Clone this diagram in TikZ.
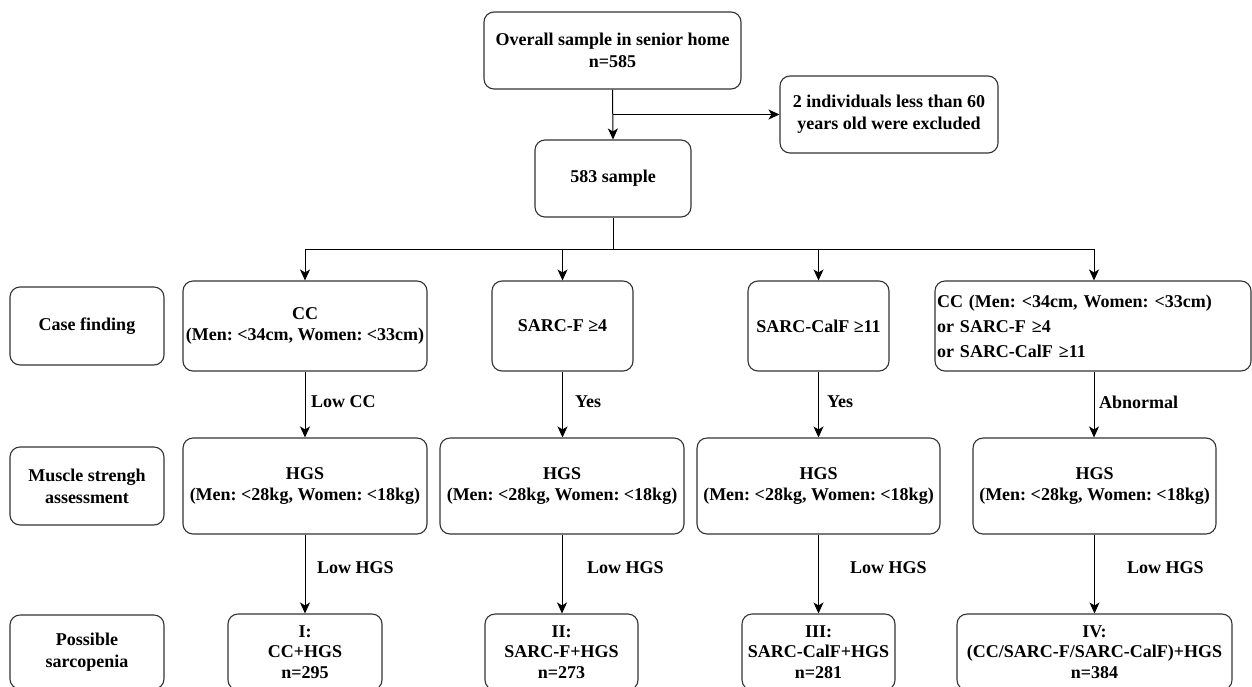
\documentclass[tikz,border=0pt]{standalone}
\usepackage{fontspec}
\setmainfont{Liberation Serif}
\usetikzlibrary{arrows.meta}
\frenchspacing
\begin{document}
\begin{tikzpicture}[x=1pt,y=-1pt,
  box/.style={draw=black!80, line width=1.1pt, rounded corners=10pt, align=center, inner sep=0pt,
    font=\bfseries\fontsize{18}{21.7}\selectfont},
  lbl/.style={anchor=west, inner sep=0pt, font=\bfseries\fontsize{18}{20}\selectfont},
  arr/.style={line width=1pt, -{Stealth[length=11pt,width=10pt,inset=3pt]}},
  ln/.style={line width=1pt}]
\frenchspacing
\clip (0,0) rectangle (1252,686);
\fill[white] (0,0) rectangle (1252,686);

% top part
\node[box, minimum width=257pt, minimum height=77pt] (top) at (612.5,50.5) {Overall sample in senior home\\n=585};
\node[box, minimum width=218pt, minimum height=77pt] (excl) at (889,114.5) {2 individuals less than 60\\years old were excluded};
\node[box, minimum width=156pt, minimum height=77pt] (s583) at (613,178.5) {583 sample};

% row labels
\node[box, minimum width=154pt, minimum height=78pt] (cf) at (87,326) {Case finding};
\node[box, minimum width=154pt, minimum height=78pt] (ms) at (87,486) {Muscle strengh\\assessment};
\node[box, minimum width=154pt, minimum height=74pt] (ps) at (87,652) {Possible\\sarcopenia};

% case finding row
\node[box, minimum width=244pt, minimum height=90pt] (cc) at (305,326) {CC\\(Men: <34cm, Women: <33cm)};
\node[box, minimum width=141pt, minimum height=90pt] (sf) at (562.5,326) {SARC-F ≥4};
\node[box, minimum width=141pt, minimum height=90pt] (scf) at (818.5,326) {SARC-CalF ≥11};
\node[box, minimum width=316pt, minimum height=90pt, text width=312pt, inner xsep=2pt, align=left,
  font=\bfseries\fontsize{18}{25}\selectfont] (any) at (1093,326) {CC (Men: <34cm, Women: <33cm)\\or SARC-F ≥4\\or SARC-CalF ≥11};

% HGS row
\node[box, minimum width=244pt, minimum height=96pt] (h1) at (305,486) {HGS\\(Men: <28kg, Women: <18kg)};
\node[box, minimum width=244pt, minimum height=96pt] (h2) at (562,486) {HGS\\(Men: <28kg, Women: <18kg)};
\node[box, minimum width=243pt, minimum height=96pt] (h3) at (818.5,486) {HGS\\(Men: <28kg, Women: <18kg)};
\node[box, minimum width=243pt, minimum height=96pt] (h4) at (1094.5,486) {HGS\\(Men: <28kg, Women: <18kg)};

% result row
\node[box, minimum width=154pt, minimum height=76pt, font=\bfseries\fontsize{18}{20.5}\selectfont] (r1) at (305,652) {I:\\CC+HGS\\n=295};
\node[box, minimum width=153pt, minimum height=76pt, font=\bfseries\fontsize{18}{20.5}\selectfont] (r2) at (561.5,652) {II:\\SARC-F+HGS\\n=273};
\node[box, minimum width=153pt, minimum height=76pt, font=\bfseries\fontsize{18}{20.5}\selectfont] (r3) at (818.5,652) {III:\\SARC-CalF+HGS\\n=281};
\node[box, minimum width=275pt, minimum height=76pt, font=\bfseries\fontsize{18}{20.5}\selectfont] (r4) at (1094.5,652) {IV:\\(CC/SARC-F/SARC-CalF)+HGS\\n=384};

% top connectors
\draw[arr] (top.south) -- (s583.north);
\draw[arr] (top.south |- excl.west) -- (excl.west);
\coordinate (bl) at (305,249);
\coordinate (brr) at (1094,249);
\draw[ln] (s583.south) -- (s583.south |- bl);
\draw[ln] (bl) -- (brr);
\draw[arr] (bl) -- (cc.north);
\draw[arr] (sf.north |- bl) -- (sf.north);
\draw[arr] (scf.north |- bl) -- (scf.north);
\draw[arr] (brr) -- (brr |- any.north);

% vertical connectors
\draw[arr] (cc.south) -- (h1.north);
\draw[arr] (sf.south) -- (sf.south |- h2.north);
\draw[arr] (scf.south) -- (scf.south |- h3.north);
\draw[arr] (brr |- any.south) -- (brr |- h4.north);
\draw[arr] (h1.south) -- (r1.north);
\draw[arr] (h2.south) -- (h2.south |- r2.north);
\draw[arr] (h3.south) -- (h3.south |- r3.north);
\draw[arr] (h4.south) -- (h4.south |- r4.north);

% edge labels
\node[lbl] (l1) at (311,402) {Low CC};
\node[lbl] (l2) at (575,402) {Yes};
\node[lbl] (l3) at (827,402) {Yes};
\node[lbl] (l4) at (1099,402) {Abnormal};
\node[lbl] (m1) at (317,568) {Low HGS};
\node[lbl] (m2) at (587,568) {Low HGS};
\node[lbl] (m3) at (850,568) {Low HGS};
\node[lbl] (m4) at (1127,568) {Low HGS};
\end{tikzpicture}
\end{document}
